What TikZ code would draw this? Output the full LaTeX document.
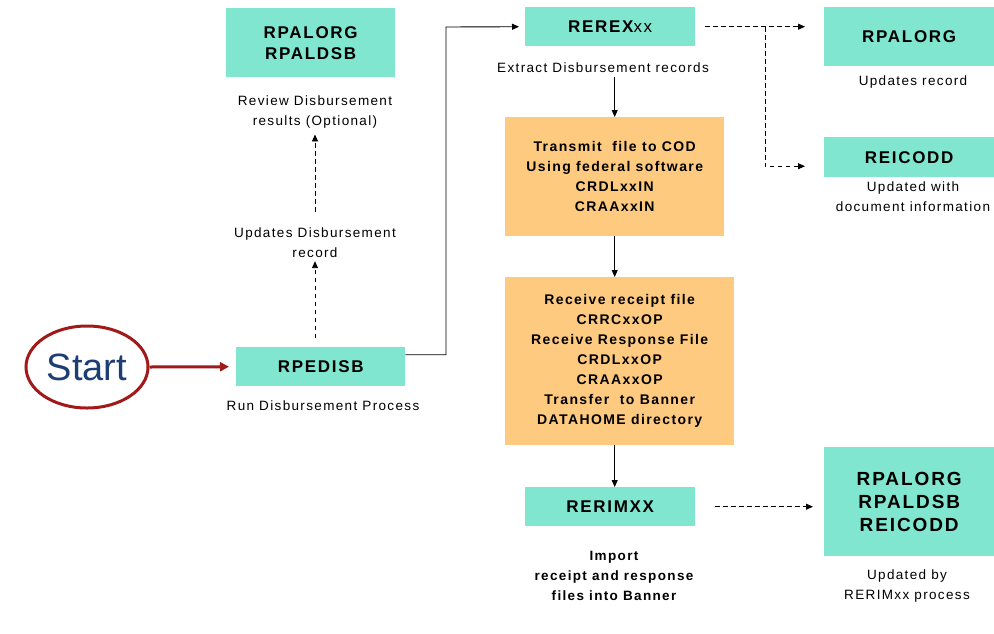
\documentclass[tikz,border=0pt]{standalone}
\usepackage{fontspec}
\setmainfont{Liberation Sans}[LetterSpace=10]
\newfontfamily\startfont{Liberation Sans}
\usetikzlibrary{arrows.meta,shapes.geometric,calc}
\definecolor{tealbox}{HTML}{80E6D0}
\definecolor{orngbox}{HTML}{FDCA80}
\definecolor{startred}{HTML}{A01A1A}
\definecolor{startblue}{HTML}{1C3E72}
\begin{document}
\begin{tikzpicture}[x=1pt,y=-1pt,
  tbox/.style={fill=tealbox, draw=none, anchor=north west, align=center, inner sep=0pt,
    font=\fontsize{17}{21}\selectfont\bfseries},
  obox/.style={fill=orngbox, draw=none, anchor=north west, align=center, inner sep=0pt,
    font=\fontsize{14}{20}\selectfont\bfseries},
  lbl/.style={align=center, inner sep=0pt, font=\fontsize{13.5}{20}\selectfont},
  blbl/.style={lbl, font=\fontsize{13.5}{20}\selectfont\bfseries},
  arr/.style={-{Triangle[length=7pt,width=6pt]}, line width=0.9pt, black},
  darr/.style={arr, dash pattern=on 4.5pt off 3.5pt},
]
\useasboundingbox[fill=white] (0,0) rectangle (994,633);

% left column
\node[tbox, minimum width=169pt, minimum height=69pt] (tl) at (226,8) {RPALORG\\RPALDSB};
\node[lbl] (tlL) at (315,112) {Review Disbursement\\results (Optional)};
\node[lbl] (upd) at (315,243) {Updates Disbursement\\record};
\node[tbox, minimum width=169pt, minimum height=39pt] (rped) at (236,347) {RPEDISB};
\node[lbl] (rpedL) at (323,406) {Run Disbursement Process};

\node[ellipse, draw=startred, line width=3pt, minimum width=122pt, minimum height=82pt,
  text=startblue, font=\startfont\fontsize{38}{40}\selectfont, inner sep=0pt] (start) at (87,367) {Start};

% middle column
\node[tbox, minimum width=170pt, minimum height=39pt] (rerex) at (525,7) {REREX\mdseries xx};
\node[lbl] (rerexL) at (603,68) {Extract Disbursement records};
\node[obox, minimum width=219pt, minimum height=119pt] (o1) at (505,117)
  {Transmit\ \ file to COD\\Using federal software\\CRDLxxIN\\CRAAxxIN};
\node[obox, minimum width=229pt, minimum height=168pt] (o2) at (505,277)
  {Receive receipt file\\CRRCxxOP\\Receive Response File\\CRDLxxOP\\CRAAxxOP\\Transfer\ \ to Banner\\DATAHOME directory};
\node[tbox, minimum width=170pt, minimum height=39pt] (rerim) at (525,487) {RERIMXX};
\node[blbl] (rerimL) at (614,576) {Import\\receipt and response\\files into Banner};

% right column
\node[tbox, minimum width=170pt, minimum height=59pt] (tr) at (824,7) {RPALORG};
\node[lbl] (trL) at (913,82) {Updates record};
\node[tbox, minimum width=170pt, minimum height=40pt] (rc) at (824,137) {REICODD};
\node[lbl] (rcL) at (913,197) {Updated with\\document information};
\node[tbox, minimum width=170pt, minimum height=109pt,
  font=\fontsize{19}{23}\selectfont\bfseries] (br) at (824,447) {RPALORG\\RPALDSB\\REICODD};
\node[lbl] (brL) at (907,586) {Updated by\\RERIMxx process};

% connectors
\draw[-{Triangle[length=9pt,width=9pt]}, line width=3pt, startred, shorten >=7pt]
  (start.east) -- (rped.west);
\draw[darr, shorten <=9pt, shorten >=3pt] (upd.south |- rped.north) -- (upd.south);
\draw[darr, shorten <=16pt, shorten >=6pt] (upd.north) -- (tlL.south);
\draw[arr, shorten >=6pt] ([yshift=12pt]rped.east) -| (446,27) -- (rerex.west);
\draw[arr, shorten <=4pt] (o1.north |- rerexL.south) -- (o1.north);
\draw[arr] (o1.south) -- (o1.south |- o2.north);
\draw[arr] (o1.south |- o2.south) -- (o1.south |- rerim.north);
\draw[darr, shorten <=10pt, shorten >=19pt] (rerex.east) -- (rerex.east -| tr.west);
\coordinate (br1) at (765,27);
\draw[darr, shorten >=19pt] (br1) |- ([yshift=-9pt]rc.west);
\draw[darr, shorten <=20pt, shorten >=11pt] (rerim.east) -- (rerim.east -| br.west);
\end{tikzpicture}
\end{document}
